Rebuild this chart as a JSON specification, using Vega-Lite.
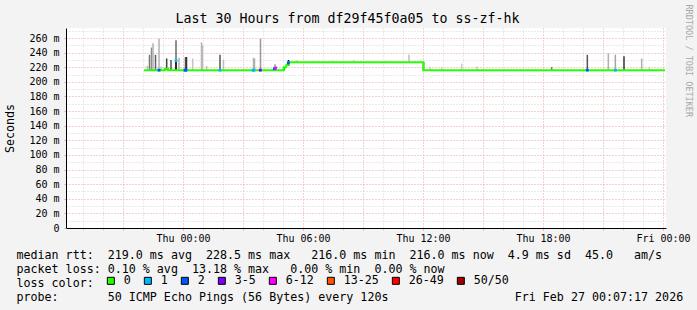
{
  "$schema": "https://vega.github.io/schema/vega-lite/v6.json",
  "width": 600,
  "height": 200,
  "autosize": "none",
  "padding": {"left": 66, "top": 28, "right": 31, "bottom": 82},
  "title": {"text": "Last 30 Hours from df29f45f0a05 to ss-zf-hk", "font": "DejaVu Sans Mono", "fontSize": 13.3, "fontWeight": "normal", "color": "#000000", "anchor": "middle", "frame": "group", "dx": -18.5, "offset": -21},
  "datasets": {
    "smoke": [
      {"t": "2026-02-25T22:13:00Z", "lo": 216, "hi": 222, "level": 0.15},
      {"t": "2026-02-25T22:19:30Z", "lo": 216, "hi": 237, "level": 0.45},
      {"t": "2026-02-25T22:25:30Z", "lo": 216, "hi": 247, "level": 0.35},
      {"t": "2026-02-25T22:30:00Z", "lo": 216, "hi": 253, "level": 0.2},
      {"t": "2026-02-25T22:37:30Z", "lo": 216, "hi": 237, "level": 0.55},
      {"t": "2026-02-25T22:48:00Z", "lo": 216, "hi": 259, "level": 0.2},
      {"t": "2026-02-25T22:54:00Z", "lo": 216, "hi": 221, "level": 0.15},
      {"t": "2026-02-25T23:11:00Z", "lo": 216, "hi": 232, "level": 0.7},
      {"t": "2026-02-25T23:24:00Z", "lo": 216, "hi": 230, "level": 0.6},
      {"t": "2026-02-25T23:39:00Z", "lo": 216, "hi": 257, "level": 0.5},
      {"t": "2026-02-25T23:39:00Z", "lo": 216, "hi": 230, "level": 0.95},
      {"t": "2026-02-25T23:48:00Z", "lo": 216, "hi": 233, "level": 0.2},
      {"t": "2026-02-26T00:07:30Z", "lo": 216, "hi": 234, "level": 0.6},
      {"t": "2026-02-26T00:10:30Z", "lo": 216, "hi": 234, "level": 0.75},
      {"t": "2026-02-26T00:29:00Z", "lo": 216, "hi": 232, "level": 0.12},
      {"t": "2026-02-26T00:55:30Z", "lo": 216, "hi": 254, "level": 0.2},
      {"t": "2026-02-26T00:58:30Z", "lo": 216, "hi": 250, "level": 0.15},
      {"t": "2026-02-26T01:11:00Z", "lo": 216, "hi": 222, "level": 0.12},
      {"t": "2026-02-26T01:51:00Z", "lo": 216, "hi": 237, "level": 0.6},
      {"t": "2026-02-26T02:01:30Z", "lo": 216, "hi": 230, "level": 0.15},
      {"t": "2026-02-26T03:31:30Z", "lo": 216, "hi": 233, "level": 0.2},
      {"t": "2026-02-26T03:34:30Z", "lo": 216, "hi": 232, "level": 0.2},
      {"t": "2026-02-26T03:52:30Z", "lo": 216, "hi": 259, "level": 0.3},
      {"t": "2026-02-26T04:36:00Z", "lo": 216, "hi": 224, "level": 0.3},
      {"t": "2026-02-26T05:03:00Z", "lo": 216, "hi": 220, "level": 1},
      {"t": "2026-02-26T05:16:30Z", "lo": 222, "hi": 230, "level": 1},
      {"t": "2026-02-26T05:42:00Z", "lo": 227, "hi": 230, "level": 0.1},
      {"t": "2026-02-26T07:30:00Z", "lo": 227, "hi": 229, "level": 0.08},
      {"t": "2026-02-26T08:33:00Z", "lo": 227, "hi": 230, "level": 0.08},
      {"t": "2026-02-26T10:09:00Z", "lo": 227, "hi": 229, "level": 0.08},
      {"t": "2026-02-26T11:18:00Z", "lo": 227, "hi": 237, "level": 0.15},
      {"t": "2026-02-26T12:01:30Z", "lo": 216, "hi": 227, "level": 1},
      {"t": "2026-02-26T12:21:00Z", "lo": 216, "hi": 220, "level": 0.1},
      {"t": "2026-02-26T12:56:00Z", "lo": 216, "hi": 220, "level": 0.1},
      {"t": "2026-02-26T13:56:00Z", "lo": 216, "hi": 225, "level": 0.1},
      {"t": "2026-02-26T14:42:00Z", "lo": 216, "hi": 221, "level": 0.1},
      {"t": "2026-02-26T18:26:00Z", "lo": 216, "hi": 220, "level": 0.5},
      {"t": "2026-02-26T20:13:00Z", "lo": 216, "hi": 237, "level": 0.6},
      {"t": "2026-02-26T21:16:00Z", "lo": 216, "hi": 239, "level": 0.2},
      {"t": "2026-02-26T21:37:00Z", "lo": 216, "hi": 237, "level": 0.25},
      {"t": "2026-02-26T22:03:00Z", "lo": 216, "hi": 235, "level": 0.75},
      {"t": "2026-02-26T22:56:00Z", "lo": 216, "hi": 232, "level": 0.2},
      {"t": "2026-02-26T23:19:00Z", "lo": 216, "hi": 220, "level": 0.1}
    ],
    "median": [
      {"t": "2026-02-25T22:03:00Z", "rtt": 216},
      {"t": "2026-02-25T23:06:00Z", "rtt": 218},
      {"t": "2026-02-25T23:15:00Z", "rtt": 216},
      {"t": "2026-02-26T05:02:00Z", "rtt": 220},
      {"t": "2026-02-26T05:10:00Z", "rtt": 223.5},
      {"t": "2026-02-26T05:17:00Z", "rtt": 227},
      {"t": "2026-02-26T12:01:00Z", "rtt": 216},
      {"t": "2026-02-27T00:06:00Z", "rtt": 216}
    ],
    "loss": [
      {"t": "2026-02-25T22:48:00Z", "rtt": 216, "loss": "2"},
      {"t": "2026-02-25T23:39:00Z", "rtt": 229, "loss": "1"},
      {"t": "2026-02-26T00:06:00Z", "rtt": 216, "loss": "2"},
      {"t": "2026-02-26T00:09:00Z", "rtt": 216, "loss": "2"},
      {"t": "2026-02-26T01:51:00Z", "rtt": 216, "loss": "1"},
      {"t": "2026-02-26T03:30:00Z", "rtt": 216, "loss": "1"},
      {"t": "2026-02-26T03:33:00Z", "rtt": 216, "loss": "1"},
      {"t": "2026-02-26T03:52:00Z", "rtt": 216, "loss": "3-5"},
      {"t": "2026-02-26T04:34:00Z", "rtt": 218, "loss": "2"},
      {"t": "2026-02-26T04:38:00Z", "rtt": 219, "loss": "6-12"},
      {"t": "2026-02-26T05:16:00Z", "rtt": 226, "loss": "2"},
      {"t": "2026-02-26T20:13:00Z", "rtt": 216, "loss": "2"},
      {"t": "2026-02-26T21:37:00Z", "rtt": 216, "loss": "1"}
    ]
  },
  "layer": [
    {
      "data": {"name": "smoke"},
      "mark": {"type": "rule", "strokeWidth": 1.5},
      "encoding": {
        "x": {
          "field": "t", "type": "temporal",
          "scale": {"type": "utc", "domain": [1772042940000, 1772150940000]},
          "axis": {
            "orient": "bottom",
            "values": [1772046000000, 1772049600000, 1772056800000, 1772060400000, 1772067600000, 1772071200000, 1772078400000, 1772082000000, 1772089200000, 1772092800000, 1772100000000, 1772103600000, 1772110800000, 1772114400000, 1772121600000, 1772125200000, 1772132400000, 1772136000000, 1772143200000, 1772146800000],
            "labels": false, "domain": false, "title": null,
            "tickSize": 2, "tickColor": "#cfcfcf",
            "grid": true, "gridColor": "#d4d4d4", "gridDash": [1, 2], "gridWidth": 1
          }
        },
        "y": {
          "field": "lo", "type": "quantitative",
          "scale": {"domain": [0, 273.7], "nice": false, "zero": false},
          "axis": {
            "orient": "left",
            "values": [10, 30, 50, 70, 90, 110, 130, 150, 170, 190, 210, 230, 250, 270],
            "labels": false, "domain": false, "ticks": false, "title": null,
            "grid": true, "gridColor": "#d4d4d4", "gridDash": [1, 2], "gridWidth": 1
          }
        },
        "y2": {"field": "hi"},
        "stroke": {"field": "level", "type": "quantitative", "scale": {"domain": [0, 1], "range": ["#e2e2e2", "#000000"]}, "legend": null}
      }
    },
    {
      "data": {"name": "median"},
      "mark": {"type": "line", "interpolate": "step-after", "color": "#26ff00", "strokeWidth": 2},
      "encoding": {
        "x": {
          "field": "t", "type": "temporal",
          "axis": {
            "orient": "bottom",
            "values": [1772053200000, 1772064000000, 1772074800000, 1772085600000, 1772096400000, 1772107200000, 1772118000000, 1772128800000, 1772139600000, 1772150400000],
            "labelExpr": "utchours(datum.value) % 6 === 0 ? utcFormat(datum.value, '%a %H:%M') : ''",
            "labelFont": "DejaVu Sans Mono", "labelFontSize": 10, "labelColor": "#000000",
            "labelOverlap": false, "labelFlush": false, "labelPadding": 3,
            "tickSize": 2, "tickColor": "#e6a3a3",
            "grid": true, "gridColor": "#e6a3a3", "gridDash": [1, 2], "gridWidth": 1,
            "domainColor": "#000000", "domainWidth": 1,
            "title": [
              "median\u00a0rtt:\u00a0\u00a0219.0\u00a0ms\u00a0avg\u00a0\u00a0228.5\u00a0ms\u00a0max\u00a0\u00a0\u00a0216.0\u00a0ms\u00a0min\u00a0\u00a0216.0\u00a0ms\u00a0now\u00a0\u00a04.9\u00a0ms\u00a0sd\u00a0\u00a045.0\u00a0\u00a0\u00a0am/s",
              "packet\u00a0loss:\u00a00.10\u00a0%\u00a0avg\u00a0\u00a013.18\u00a0%\u00a0max\u00a0\u00a0\u00a00.00\u00a0%\u00a0min\u00a0\u00a00.00\u00a0%\u00a0now",
              "loss\u00a0color:",
              "probe:\u00a0\u00a0\u00a0\u00a0\u00a0\u00a0\u00a050\u00a0ICMP\u00a0Echo\u00a0Pings\u00a0(56\u00a0Bytes)\u00a0every\u00a0120s\u00a0\u00a0\u00a0\u00a0\u00a0\u00a0\u00a0\u00a0\u00a0\u00a0\u00a0\u00a0\u00a0\u00a0\u00a0\u00a0\u00a0\u00a0Fri\u00a0Feb\u00a027\u00a000:07:17\u00a02026"
            ],
            "titleFont": "DejaVu Sans Mono", "titleFontSize": 11.66, "titleFontWeight": "normal", "titleColor": "#000000",
            "titleAlign": "left", "titleBaseline": "alphabetic", "titleX": -50, "titleY": 30, "titleLineHeight": 14
          }
        },
        "y": {
          "field": "rtt", "type": "quantitative",
          "axis": {
            "orient": "left",
            "values": [0, 20, 40, 60, 80, 100, 120, 140, 160, 180, 200, 220, 240, 260],
            "labelExpr": "datum.value === 0 ? '0' : datum.value + ' m'",
            "labelFont": "DejaVu Sans Mono", "labelFontSize": 10, "labelColor": "#000000",
            "labelOverlap": false, "labelFlush": false, "labelPadding": 5,
            "tickSize": 2, "tickColor": "#e6a3a3",
            "grid": true, "gridColor": "#e6a3a3", "gridDash": [1, 2], "gridWidth": 1,
            "domainColor": "#000000", "domainWidth": 1,
            "title": "Seconds",
            "titleFont": "DejaVu Sans Mono", "titleFontSize": 11.66, "titleFontWeight": "normal", "titleColor": "#000000",
            "titleAngle": 270, "titleAlign": "center", "titleBaseline": "alphabetic", "titleX": -52.5, "titleY": 100
          }
        }
      }
    },
    {
      "data": {"name": "loss"},
      "mark": {"type": "point", "shape": "square", "filled": true, "size": 8, "opacity": 1},
      "encoding": {
        "x": {"field": "t", "type": "temporal", "axis": null},
        "y": {
          "field": "rtt", "type": "quantitative",
          "axis": {"orient": "right", "title": "RRDTOOL / TOBI OETIKER", "labels": false, "ticks": false, "domain": false, "grid": false,
            "titleFont": "DejaVu Sans Mono", "titleFontSize": 8.5, "titleFontWeight": "normal", "titleColor": "#a8a8a8",
            "titleAngle": 90, "titleAlign": "left", "titleBaseline": "alphabetic", "titleX": 19, "titleY": -24}
        },
        "color": {
          "field": "loss", "type": "nominal",
          "scale": {"domain": ["0", "1", "2", "3-5", "6-12", "13-25", "26-49", "50/50"], "range": ["#26ff00", "#00b8ff", "#0059ff", "#7e00ff", "#ff00ff", "#ff5500", "#ff0000", "#a10000"]},
          "legend": {"orient": "none", "legendX": 39, "legendY": 247, "direction": "horizontal", "title": null, "gridAlign": "none",
            "symbolType": "square", "symbolSize": 49, "symbolStrokeColor": "#000000", "symbolStrokeWidth": 1,
            "labelFont": "DejaVu Sans Mono", "labelFontSize": 11.66, "labelColor": "#000000", "labelOffset": 7, "columnPadding": 11, "padding": 0}
        }
      }
    },
    {
      "mark": {"type": "point", "shape": "triangle-up", "filled": true, "size": 28, "color": "#8e1f1f", "opacity": 1, "yOffset": -4, "xOffset": 0.5},
      "encoding": {
        "x": {"datum": 1772042940000, "type": "temporal", "axis": null},
        "y": {"datum": 273.7, "type": "quantitative", "axis": null}
      }
    },
    {
      "mark": {"type": "point", "shape": "triangle-right", "filled": true, "size": 28, "color": "#8e1f1f", "opacity": 1, "xOffset": 4, "yOffset": 0.5},
      "encoding": {
        "x": {"datum": 1772150940000, "type": "temporal", "axis": null},
        "y": {"datum": 0, "type": "quantitative", "axis": null}
      }
    }
  ],
  "resolve": {"axis": {"x": "independent", "y": "independent"}},
  "config": {
    "background": "#f3f3f3",
    "view": {"fill": "#ffffff", "stroke": null},
    "font": "DejaVu Sans Mono"
  }
}
